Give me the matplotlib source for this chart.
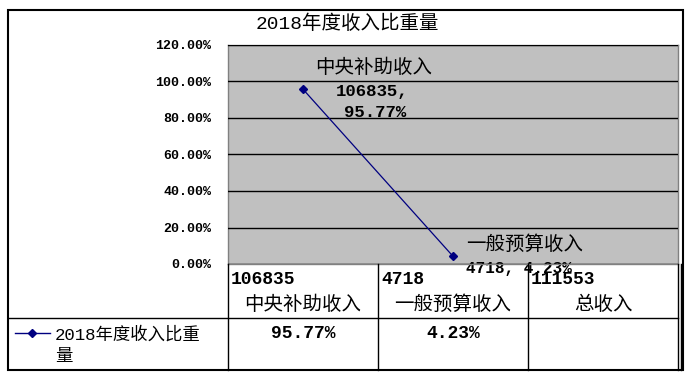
import matplotlib
matplotlib.use("Agg")
import matplotlib.pyplot as plt
from matplotlib.lines import Line2D
from matplotlib.patches import Rectangle

FONT = ['Liberation Mono', 'Noto Sans CJK SC', 'DejaVu Sans']
plt.rcParams['font.family'] = FONT

title = '2018年度收入比重量'
series_name = '2018年度收入比重量'
categories = ['中央补助收入', '一般预算收入', '总收入']
amounts = [106835, 4718, 111553]
shares = [95.77, 4.23]
share_labels = ['95.77%', '4.23%', '']
yticks = [0, 20, 40, 60, 80, 100, 120]

W, H = 692, 378
fig = plt.figure(figsize=(W / 100, H / 100), dpi=100)
fig.patch.set_facecolor('white')

def fx(x):
    return x / W

def fy(y):
    return 1 - y / H

L, R, T, B = 228, 678, 45, 264
ax = fig.add_axes([fx(L), fy(B), (R - L) / W, (B - T) / H])
ax.set_facecolor('#C0C0C0')
ax.set_xlim(-0.5, len(categories) - 0.5)
ax.set_ylim(0, 120)
ax.set_yticks(yticks)
ax.set_yticklabels([f'{v:.2f}%' for v in yticks], fontsize=9.5, fontweight='bold')
ax.tick_params(axis='y', length=0, pad=12)
ax.set_xticks([])
ax.grid(axis='y', color='black', linewidth=1, zorder=1)
ax.set_axisbelow(False)
for s in ax.spines.values():
    s.set_color('#808080')
    s.set_linewidth(1)

xs = list(range(len(shares)))
ax.plot(xs, shares, color='#000080', linewidth=0.9, marker='D', markersize=4,
        markerfacecolor='#000080', zorder=3, clip_on=False)

# data labels
ax.text(0.47, 107.4, categories[0], ha='center', va='center',
        fontsize=14, zorder=0.5)
ax.text(0.46, 94.5, f'{amounts[0]},', ha='center', va='center',
        fontsize=12.5, fontweight='bold', zorder=0.5)
ax.text(0.48, 83.0, share_labels[0], ha='center', va='center',
        fontsize=12.5, fontweight='bold', zorder=0.5)
ax.text(1.09, 10.4, categories[1], ha='left', va='center',
        fontsize=14, zorder=0.5)
ax.text(1.09, -2.2, f'{amounts[1]}, {share_labels[1]}', ha='left', va='center',
        fontsize=11.5, fontweight='bold', zorder=0.5, clip_on=False)

# title
fig.text(fx(347), fy(24), title, ha='center', va='center', fontsize=14)

# table lines
lc = 'black'
cols = [228, 378, 528, 678]
for x in cols:
    fig.add_artist(Line2D([fx(x), fx(x)], [fy(264), fy(370)], color=lc, linewidth=1))
fig.add_artist(Line2D([fx(8), fx(678)], [fy(318), fy(318)], color=lc, linewidth=1))
fig.add_artist(Line2D([fx(681), fx(681)], [fy(264), fy(370)], color=lc, linewidth=1))
# outer border
fig.add_artist(Rectangle((fx(8), fy(370)), fx(683 - 8), (370 - 10) / H, fill=False,
                         edgecolor='black', linewidth=1.5, transform=fig.transFigure))

# table content
for i, (c, a, s) in enumerate(zip(categories, amounts, share_labels)):
    x0 = cols[i]
    xc = (cols[i] + cols[i + 1]) / 2
    fig.text(fx(x0 + 3), fy(280), f'{a}', ha='left', va='center', fontsize=13, fontweight='bold')
    fig.text(fx(xc), fy(305), c, ha='center', va='center', fontsize=14)
    fig.text(fx(xc), fy(334), s, ha='center', va='center', fontsize=13, fontweight='bold')

# legend cell
fig.add_artist(Line2D([fx(15), fx(50)], [fy(333), fy(333)], color='#000080', linewidth=1))
fig.add_artist(Line2D([fx(32)], [fy(333)], color='#000080', marker='D', markersize=4, linewidth=0))
fig.text(fx(55), fy(334), series_name[:-1], ha='left', va='center', fontsize=12.5)
fig.text(fx(55), fy(357), series_name[-1], ha='left', va='center', fontsize=12.5)

fig.savefig('out.png', dpi=100)
